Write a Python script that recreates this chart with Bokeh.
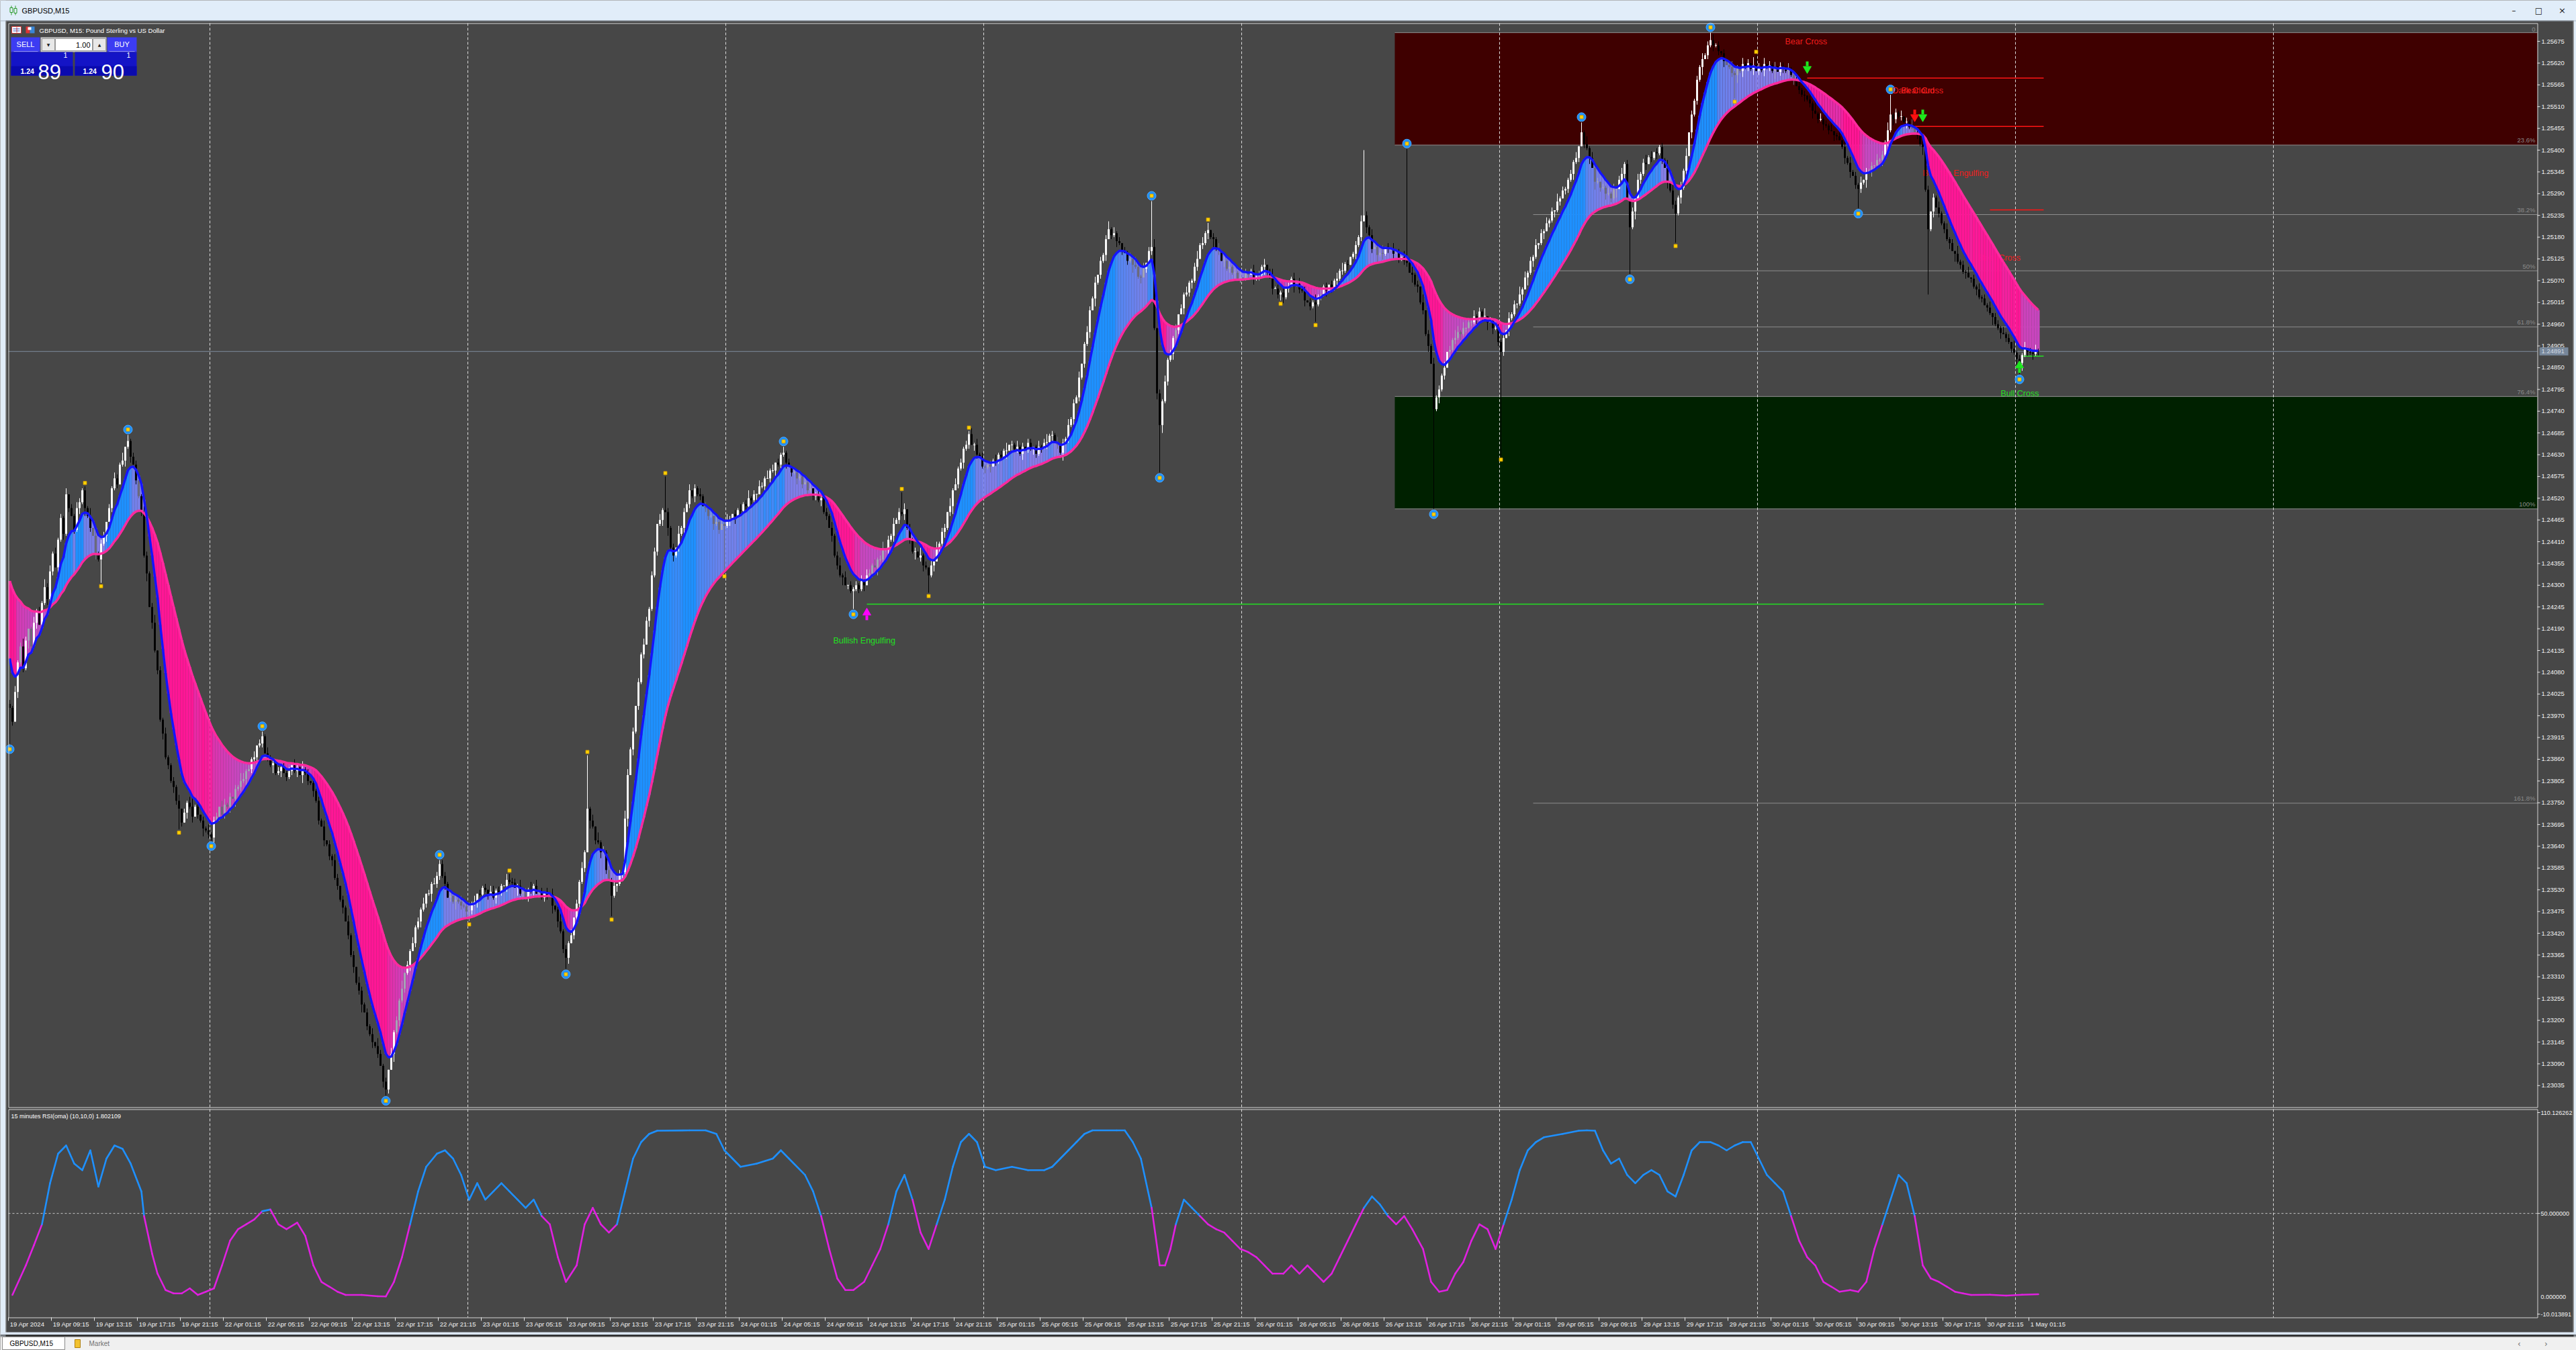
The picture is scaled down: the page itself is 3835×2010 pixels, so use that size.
import numpy as np
from bokeh.plotting import figure
from bokeh.models import Range1d
from bokeh.embed import file_html
from bokeh.resources import INLINE
from bokeh.core.properties import value

# ============================== DATA ==============================
WINDOW_TITLE = "GBPUSD,M15"
CHART_HEADER = "GBPUSD, M15:  Pound Sterling vs US Dollar"
RSI_HEADER = "15 minutes RSI(oma) (10,10,0) 1.802109"

PRICE_BASE = 1.23000          # price that equals 0 points
POINT = 0.00001
FIRST_OPEN = 1000             # points

# close of every M15 bar (points above 1.23000), 19 Apr 05:15 ... 1 May
CLOSES = [
    990, 955, 1030, 1105, 1145, 1090, 1160, 1190, 1145, 1205, 1235, 1200, 1255, 1295, 1265, 1335, 1380, 1345, 1415, 1470,
    1430, 1530, 1495, 1475, 1440, 1495, 1510, 1540, 1495, 1475, 1445, 1425, 1380, 1365, 1405, 1425, 1460, 1495, 1545, 1570,
    1555, 1605, 1615, 1650, 1665, 1625, 1605, 1565, 1525, 1485, 1375, 1330, 1245, 1205, 1135, 1085, 960, 925, 865, 845,
    805, 790, 755, 735, 700, 725, 750, 740, 715, 740, 720, 705, 685, 680, 670, 662, 705, 715, 740, 720,
    745, 740, 765, 760, 785, 790, 805, 810, 830, 835, 860, 865, 895, 900, 918, 875, 865, 845, 850, 825,
    830, 840, 825, 815, 830, 845, 830, 840, 820, 835, 825, 805, 800, 780, 755, 705, 690, 655, 645, 615,
    605, 560, 540, 505, 485, 450, 415, 365, 335, 295, 275, 240, 220, 185, 165, 145, 135, 115, 85, 45,
    25, 75, 115, 170, 200, 250, 280, 320, 340, 375, 395, 435, 450, 480, 495, 520, 520, 545, 545, 565,
    595, 565, 545, 510, 515, 500, 505, 500, 490, 488, 475, 478, 495, 500, 520, 518, 535, 530, 520, 525,
    510, 528, 525, 540, 540, 555, 550, 548, 535, 540, 520, 525, 510, 530, 525, 540, 520, 525, 510, 525,
    515, 518, 490, 480, 450, 425, 380, 358, 395, 415, 460, 495, 550, 585, 625, 735, 705, 690, 655, 650,
    625, 625, 580, 555, 515, 540, 545, 570, 575, 710, 820, 885, 930, 995, 1055, 1125, 1150, 1210, 1240, 1325,
    1385, 1455, 1465, 1490, 1485, 1445, 1395, 1375, 1395, 1430, 1445, 1485, 1505, 1540, 1525, 1545, 1530, 1525, 1500, 1495,
    1475, 1475, 1455, 1460, 1440, 1455, 1450, 1465, 1465, 1480, 1475, 1490, 1488, 1505, 1500, 1520, 1515, 1530, 1530, 1550,
    1550, 1570, 1570, 1590, 1590, 1610, 1605, 1630, 1635, 1610, 1600, 1585, 1585, 1570, 1575, 1555, 1560, 1540, 1545, 1525,
    1530, 1515, 1520, 1485, 1475, 1445, 1425, 1375, 1350, 1325, 1320, 1300, 1300, 1285, 1290, 1300, 1290, 1310, 1300, 1325,
    1330, 1350, 1345, 1365, 1365, 1390, 1390, 1415, 1425, 1455, 1465, 1485, 1480, 1492, 1445, 1415, 1385, 1385, 1370, 1375,
    1350, 1345, 1325, 1350, 1360, 1395, 1405, 1435, 1445, 1485, 1500, 1540, 1555, 1595, 1610, 1645, 1655, 1682, 1655, 1655,
    1630, 1625, 1600, 1598, 1605, 1600, 1615, 1612, 1630, 1625, 1640, 1640, 1655, 1655, 1645, 1650, 1632, 1650, 1645, 1660,
    1645, 1650, 1632, 1650, 1645, 1660, 1662, 1678, 1680, 1660, 1655, 1635, 1660, 1670, 1705, 1720, 1760, 1775, 1825, 1860,
    1910, 1940, 1995, 2025, 2065, 2085, 2120, 2135, 2175, 2200, 2185, 2190, 2170, 2165, 2145, 2140, 2120, 2125, 2110, 2105,
    2080, 2078, 2100, 2115, 2145, 2155, 1950, 1785, 1705, 1765, 1815, 1870, 1885, 1925, 1945, 1985, 2000, 2035, 2040, 2065,
    2070, 2105, 2125, 2160, 2165, 2190, 2198, 2180, 2175, 2150, 2145, 2120, 2120, 2100, 2105, 2090, 2090, 2075, 2078, 2075,
    2090, 2085, 2095, 2075, 2080, 2085, 2105, 2110, 2090, 2080, 2050, 2050, 2035, 2040, 2028, 2050, 2055, 2075, 2060, 2062,
    2048, 2045, 2020, 2015, 2005, 2015, 2010, 2030, 2035, 2055, 2045, 2060, 2050, 2070, 2075, 2095, 2095, 2112, 2110, 2130,
    2138, 2160, 2180, 2220, 2235, 2205, 2185, 2150, 2155, 2135, 2140, 2138, 2155, 2150, 2150, 2138, 2140, 2125, 2130, 2120,
    2115, 2090, 2085, 2060, 2055, 2015, 1995, 1935, 1905, 1860, 1745, 1775, 1795, 1830, 1850, 1890, 1895, 1920, 1925, 1940,
    1935, 1950, 1950, 1965, 1965, 1980, 1975, 1992, 1980, 1980, 1965, 1968, 1950, 1950, 1915, 1890, 1925, 1945, 1975, 1985,
    2010, 2012, 2035, 2048, 2078, 2090, 2120, 2130, 2160, 2165, 2190, 2195, 2215, 2222, 2245, 2248, 2270, 2278, 2298, 2302,
    2325, 2340, 2370, 2380, 2410, 2445, 2415, 2405, 2380, 2355, 2320, 2320, 2305, 2305, 2290, 2290, 2278, 2300, 2302, 2325,
    2340, 2365, 2275, 2205, 2245, 2278, 2325, 2340, 2368, 2365, 2382, 2380, 2395, 2392, 2408, 2375, 2355, 2318, 2298, 2262,
    2240, 2280, 2305, 2348, 2385, 2445, 2490, 2525, 2578, 2610, 2630, 2640, 2665, 2678, 2665, 2665, 2650, 2645, 2625, 2615,
    2610, 2595, 2590, 2605, 2600, 2618, 2610, 2620, 2605, 2615, 2600, 2610, 2602, 2618, 2610, 2615, 2600, 2608, 2598, 2612,
    2610, 2600, 2605, 2590, 2580, 2562, 2552, 2540, 2538, 2528, 2518, 2500, 2492, 2478, 2478, 2465, 2462, 2450, 2448, 2438,
    2435, 2425, 2408, 2380, 2368, 2345, 2335, 2312, 2302, 2318, 2325, 2345, 2348, 2360, 2362, 2375, 2375, 2388, 2420, 2450,
    2490, 2478, 2495, 2485, 2485, 2470, 2472, 2458, 2455, 2445, 2438, 2415, 2408, 2300, 2200, 2245, 2280, 2255, 2240, 2215,
    2200, 2175, 2165, 2145, 2138, 2118, 2110, 2092, 2090, 2078, 2075, 2055, 2048, 2028, 2025, 2008, 2002, 1988, 1978, 1960,
    1950, 1938, 1935, 1925, 1915, 1898, 1888, 1872, 1862, 1882, 1900, 1890, 1888, 1885, 1893, 1891,
]

# wick lengths per bar, one digit per bar, in units of WICK_UNIT points
WICK_UNIT = 5
UPPER_WICKS = (
    "21312420131214231312" "13021321214031220213" "21403122013212402131" "12130213412021312203"
    "31202143121302213120" "21312032141203121302" "13202131203212130421" "20312140213121302132"
    "12213021312413021203" "31210312213021413120" "21302412130213121304" "13121302143120213212"
    "20313212041213021312" "12031213202131241203" "21413021312021312130" "13202131241302121313"
    "21312402131213021204" "12031312204131212031" "31210213121402131202" "20131241213021312130"
    "13213021241312021314" "21302140213121302131" "12413120213021412130" "20131213024121302131"
    "31202141312021314120" "12130213212402131203" "21312040213121302143" "13021312140213212031"
    "20413121302131204121" "12130214131202131302" "31202131241302121403" "21314021213120312021"
    "13120312041213021312" "20312131202141312130" "12041312130212031214" "31213021412031202131"
    "13120412130213121302" "2131204121302131"
)
LOWER_WICKS = (
    "12031214213021312041" "31202131412031213021" "20131302121403121312" "13212031302141213021"
    "21304121302131202141" "13021213041213120312" "31213021312402131203" "12041312130213121402"
    "21302141213021312130" "13120312041312130212" "20413121302131204121" "31202131214031212031"
    "12130413121302131202" "21312021304121312140" "13021412130213120312" "21312031214021312130"
    "12041312130213121402" "31213021312402131203" "20131302121403121312" "13212031302141213021"
    "21304121302131202141" "13021213041213120312" "31202131412031213021" "12031214213021312041"
    "21302141213021312130" "13120312041312130212" "20413121302131204121" "31202131214031212031"
    "12130413121302131202" "21312021304121312140" "13021412130213120312" "21312031214021312130"
    "12041312130213121402" "31213021312402131203" "20131302121403121312" "13212031302141213021"
    "21304121302131202141" "1302121304121312"
)

# long spikes
HIGH_SPIKE_BARS = [28, 44, 94, 160, 186, 215, 244, 288, 332, 357, 425, 446, 504, 520, 585, 633, 650, 700]
HIGH_SPIKE_PTS = [1545, 1672, 930, 605, 570, 870, 1575, 1639, 1535, 1690, 2271, 2216, 2400, 2403, 2470, 2697, 2640, 2540]
LOW_SPIKE_BARS = [0, 34, 63, 75, 140, 171, 207, 224, 266, 314, 342, 428, 473, 486, 530, 555, 603, 620, 642, 688, 714, 748]
LOW_SPIKE_PTS = [899, 1306, 683, 654, 10, 451, 330, 463, 1331, 1240, 1281, 1585, 2020, 1966, 1493, 1626, 2087, 2166, 2531, 2253, 2035, 1834]

BID_PTS = 1891

# ribbon (two moving averages)
FAST_PERIOD, SLOW_PERIOD = 8, 34
FAST_SEED, SLOW_SEED = 1150, 1330

# swing markers
SWING_BARS = [0, 44, 75, 94, 140, 160, 207, 288, 314, 425, 428, 520, 530, 585, 603, 633, 688, 700, 748]
SWING_KIND = ["L", "H", "L", "H", "L", "H", "L", "H", "L", "H", "L", "H", "L", "H", "L", "H", "L", "H", "L"]
MINOR_BARS = [28, 34, 63, 171, 186, 215, 224, 244, 266, 332, 342, 357, 446, 473, 486, 555, 620, 642, 650]
MINOR_KIND = ["H", "L", "L", "L", "H", "H", "L", "H", "L", "H", "L", "H", "H", "L", "L", "L", "L", "L", "H"]

# Fibonacci retracement between bar 633 high and bar 530 low
FIB_HIGH_BAR, FIB_LOW_BAR = 633, 530
FIB_LEVELS = [0.0, 23.6, 38.2, 50.0, 61.8, 76.4, 100.0, 161.8]
FIB_LABELS = ["0", "23.6%", "38.2%", "50%", "61.8%", "76.4%", "100%", "161.8%"]
FIB_ZONE_START = 516
FIB_LINE_START = 567

# pattern signals
SIGNAL_LINE_START = [319, 669, 709, 737, 749]
SIGNAL_LINE_PTS = [1252, 2582, 2460, 2249, 1879]
SIGNAL_LINE_KIND = ["bull", "bear", "bear", "bear", "bull"]
SIGNAL_LINE_END = 757

ARROW_BARS = [319, 669, 709, 712, 748]
ARROW_PTS = [1227, 2609, 2487, 2487, 1852]
ARROW_DIR = ["up", "down", "down", "down", "up"]
ARROW_KIND = ["engulf", "cross", "pattern", "cross", "cross"]

SIGNAL_TEXT = ["Bullish Engulfing", "Bear Cross", "Dark Cloud", "Bear Cross",
               "Bearish Engulfing", "Bear Cross", "Bull Cross"]
SIGNAL_TEXT_BAR = [306.5, 660.75, 700.75, 704.0, 712.0, 732.75, 741.0]
SIGNAL_TEXT_PTS = [1159, 2675, 2551, 2551, 2341, 2128, 1784]
SIGNAL_TEXT_KIND = ["bull", "bear", "bear", "bear", "bear", "bear", "bull"]
SIGNAL_TEXT_BEHIND = [False, False, False, False, True, True, False]

# RSI(oma) samples: (bar, value)
RSI_SAMPLES = [
    (1, 1.4), (6, 19), (9, 31), (12, 43.5), (15, 68), (18, 85.6), (21, 90.5), (24, 79.7), (27, 75.8), (30, 87.6),
    (33, 66), (36, 82.7), (39, 90.5), (42, 88.5), (45, 79.7), (49, 63.1), (50, 48.4), (53, 25.9), (55, 14.1), (58, 4.3),
    (61, 2.3), (64, 2.3), (67, 5.3), (70, 1.4), (73, 3.3), (76, 5.3), (79, 19), (82, 33.7), (85, 40.6), (88, 43.5),
    (91, 46.4), (94, 51.3), (97, 52.3), (100, 43.5), (103, 40.6), (107, 44.5), (110, 36.6), (113, 19), (116, 9.2), (119, 6.3),
    (122, 3.3), (125, 1.4), (131, 1.4), (137, 0.6), (140, 0.5), (143, 9.2), (146, 23.9), (149, 43.5), (152, 63.1), (155, 77.8),
    (159, 85.6), (162, 87.6), (165, 82.7), (168, 72.9), (171, 58.2), (174, 68), (177, 58.2), (180, 63.1), (183, 68), (186, 63.1),
    (189, 58.2), (192, 53.3), (195, 58.2), (198, 48.4), (201, 43.5), (204, 23.9), (207, 9.2), (211, 19), (214, 43.5), (217, 53.3),
    (220, 43.5), (223, 38.6), (226, 43.5), (229, 63.1), (232, 82.7), (235, 92.5), (238, 97.4), (241, 99.3), (253, 99.5), (259, 99.5),
    (263, 97.4), (266, 87.6), (269, 82.7), (272, 77.8), (278, 79.7), (284, 82.7), (287, 87.6), (290, 82.7), (296, 72.9), (299, 63.1),
    (302, 48.4), (305, 28.8), (308, 11.2), (311, 4.3), (314, 4.3), (318, 9.2), (321, 19), (324, 28.8), (327, 43.5), (330, 63.1),
    (333, 72.9), (336, 58.2), (339, 38.6), (342, 28.8), (345, 43.5), (348, 58.2), (351, 77.8), (354, 92.5), (357, 97.4), (360, 92.5),
    (363, 77.8), (367, 75.8), (373, 77.8), (379, 75.8), (385, 75.8), (388, 77.8), (391, 82.7), (394, 87.6), (397, 92.5), (400, 97.4),
    (403, 99.5), (412, 99.5), (415, 99.5), (418, 92.5), (421, 82.7), (425, 53.3), (428, 19), (430, 19), (432, 28.8), (434, 43.5),
    (437, 58.2), (440, 53.3), (443, 48.4), (446, 43.5), (449, 40.6), (452, 38.6), (455, 33.7), (458, 28.8), (461, 26.9), (464, 23.9),
    (467, 19), (470, 14.1), (474, 14.1), (477, 19), (480, 14.1), (483, 19), (486, 14.1), (489, 9.2), (492, 14.1), (495, 23.9),
    (498, 33.7), (501, 43.5), (504, 53.3), (507, 60.1), (510, 55.3), (513, 48.4), (516, 43.5), (519, 48.4), (522, 40.6), (526, 28.8),
    (529, 9.2), (532, 3.3), (535, 4.3), (538, 14.1), (541, 21), (544, 33.7), (547, 43.5), (550, 40.6), (553, 28.8), (556, 43.5),
    (559, 58.2), (562, 75.8), (565, 87.6), (568, 92.5), (571, 95.4), (578, 97.4), (584, 99.3), (587, 99.5), (590, 99.3), (593, 87.6),
    (596, 79.7), (599, 82.7), (602, 72.9), (605, 68), (608, 72.9), (611, 75.8), (614, 72.9), (617, 63.1), (620, 60.1), (623, 72.9),
    (626, 87.6), (629, 92.5), (633, 92.5), (636, 90.5), (639, 87.6), (642, 90.5), (645, 92.5), (648, 92.5), (651, 82.7), (654, 72.9),
    (657, 68), (660, 63.1), (663, 48.4), (666, 33.7), (669, 23.9), (672, 19), (675, 9.2), (678, 6.3), (681, 3.3), (685, 4.3),
    (688, 3.3), (691, 9.2), (694, 28.8), (697, 43.5), (700, 58.2), (703, 72.9), (706, 68), (709, 48.4), (712, 19), (715, 11.2),
    (718, 9.2), (721, 6.3), (724, 3.3), (727, 2.3), (730, 1.4), (737, 1.5), (743, 1.0), (749, 1.5), (755, 1.8),
]

# axis labels
PRICE_TICKS = [round(1.23035 + 0.00055 * k, 5) for k in range(49)]
RSI_TICK_VALUES = [110.126262, 50.0, 0.0, -10.013891]
RSI_TICK_LABELS = ["110.126262", "50.000000", "0.000000", "-10.013891"]
RSI_LEVEL = 50.0
TIME_LABELS = [
    "19 Apr 2024", "19 Apr 09:15", "19 Apr 13:15", "19 Apr 17:15", "19 Apr 21:15",
    "22 Apr 01:15", "22 Apr 05:15", "22 Apr 09:15", "22 Apr 13:15", "22 Apr 17:15", "22 Apr 21:15",
    "23 Apr 01:15", "23 Apr 05:15", "23 Apr 09:15", "23 Apr 13:15", "23 Apr 17:15", "23 Apr 21:15",
    "24 Apr 01:15", "24 Apr 05:15", "24 Apr 09:15", "24 Apr 13:15", "24 Apr 17:15", "24 Apr 21:15",
    "25 Apr 01:15", "25 Apr 05:15", "25 Apr 09:15", "25 Apr 13:15", "25 Apr 17:15", "25 Apr 21:15",
    "26 Apr 01:15", "26 Apr 05:15", "26 Apr 09:15", "26 Apr 13:15", "26 Apr 17:15", "26 Apr 21:15",
    "29 Apr 01:15", "29 Apr 05:15", "29 Apr 09:15", "29 Apr 13:15", "29 Apr 17:15", "29 Apr 21:15",
    "30 Apr 01:15", "30 Apr 05:15", "30 Apr 09:15", "30 Apr 13:15", "30 Apr 17:15", "30 Apr 21:15",
    "1 May 01:15",
]
TIME_LABEL_STEP = 16          # bars between labels
DAY_SEPARATOR_BARS = [75 + 96 * k for k in range(9)]

# ============================== GEOMETRY (page pixels) ==============================
FONT = "Liberation Sans"
BG = "#474747"
FRAME_COL = "#d4d4d4"
CHROME = "#e1edf9"
PAGE_L, PAGE_T, PAGE_R, PAGE_B = 0, 0, 3835, 2010
MAIN_L, MAIN_R, MAIN_T, MAIN_B = 12, 3777, 34, 1648
RSI_T, RSI_B = 1651, 1961
BAR0_X, BAR_W = 14.0, 4.0
PRICE_Y_REF, PRICE_REF, PX_PER_PRICE = 34.0, 1.25721, 58891.0
RSI_Y_REF, RSI_REF, PX_PER_RSI = 1656.0, 110.126262, 300.0 / 120.140153


def bar_at(X):
    return (X - BAR0_X) / BAR_W


def price_at(Y):
    return PRICE_REF - (Y - PRICE_Y_REF) / PX_PER_PRICE


def rsi_at(Y):
    return RSI_REF - (Y - RSI_Y_REF) / PX_PER_RSI


def P(pts):
    return PRICE_BASE + np.asarray(pts, dtype=float) * POINT


def px_h(pixels):
    return pixels / PX_PER_PRICE


# ============================== DERIVED ==============================
N = len(CLOSES)
idx = np.arange(N, dtype=float)
c = np.array(CLOSES, dtype=float)
o = np.concatenate([[FIRST_OPEN], c[:-1]])
uw = np.array([int(ch) for ch in (UPPER_WICKS + "1" * N)[:N]], dtype=float) * WICK_UNIT
lw = np.array([int(ch) for ch in (LOWER_WICKS + "1" * N)[:N]], dtype=float) * WICK_UNIT
hi = np.maximum(o, c) + uw
lo = np.minimum(o, c) - lw
for b, v in zip(HIGH_SPIKE_BARS, HIGH_SPIKE_PTS):
    hi[b] = max(hi[b], v)
for b, v in zip(LOW_SPIKE_BARS, LOW_SPIKE_PTS):
    lo[b] = min(lo[b], v)

fast = np.empty(N)
slow = np.empty(N)
af, aslow = 2.0 / (FAST_PERIOD + 1), 2.0 / (SLOW_PERIOD + 1)
pf, ps = float(FAST_SEED), float(SLOW_SEED)
for i in range(N):
    pf += af * (c[i] - pf)
    ps += aslow * (c[i] - ps)
    fast[i], slow[i] = pf, ps

NEUT_BULL = (146, 122, 226)
NEUT_BEAR = (180, 86, 204)
BULL_FILL = (30, 144, 255)
BEAR_FILL = (255, 22, 150)
slope = np.diff(fast, prepend=FAST_SEED)
gap = fast - slow
ribbon_cols = []
for g, s in zip(gap, slope):
    if g >= 0:
        t = max(s / 12.0, g / 420.0)
        a_, b_ = NEUT_BULL, BULL_FILL
    else:
        t = max(-s / 12.0, -g / 420.0)
        a_, b_ = NEUT_BEAR, BEAR_FILL
    t = min(1.0, max(0.0, t))
    ribbon_cols.append("#%02x%02x%02x" % tuple(int(round(a_[k] + (b_[k] - a_[k]) * t)) for k in range(3)))

body_top = np.maximum(o, c)
body_bot = np.minimum(o, c)
thin = (body_top - body_bot) < 1.5
body_top = np.where(thin, body_top + 0.9, body_top)
body_bot = np.where(thin, body_bot - 0.9, body_bot)
band_lo = np.minimum(fast, slow)
band_hi = np.maximum(fast, slow)
inside = (np.minimum(o, c) >= band_lo) & (np.maximum(o, c) <= band_hi)
bull = c >= o
candle_cols = []
for up, ins in zip(bull, inside):
    if ins:
        candle_cols.append("#a4a6b6" if up else "#6a6a78")
    else:
        candle_cols.append("#ffffff" if up else "#000000")

fib_hi = hi[FIB_HIGH_BAR]
fib_lo = lo[FIB_LOW_BAR]
fib_pts = [fib_hi - lv / 100.0 * (fib_hi - fib_lo) for lv in FIB_LEVELS]

# ============================== FIGURE ==============================
p = figure(width=PAGE_R - PAGE_L, height=PAGE_B - PAGE_T,
           x_range=Range1d(bar_at(PAGE_L), bar_at(PAGE_R)),
           y_range=Range1d(price_at(PAGE_B), price_at(PAGE_T)),
           output_backend="svg", toolbar_location=None,
           x_axis_type=None, y_axis_type=None, min_border=0)
p.extra_x_ranges = {"px": Range1d(PAGE_L, PAGE_R)}
p.extra_y_ranges = {"py": Range1d(PAGE_B, PAGE_T), "rsi": Range1d(rsi_at(PAGE_B), rsi_at(PAGE_T))}
p.background_fill_color = BG
p.border_fill_color = BG
p.outline_line_color = None
p.grid.visible = False


def q(l, r, t, b, color, line=None, lw=1, alpha=1.0):
    p.quad(left=[l], right=[r], top=[t], bottom=[b], fill_color=color, fill_alpha=alpha,
           line_color=line, line_width=lw, x_range_name="px", y_range_name="py")


def txt(x, y, s, size, color, align="left", baseline="middle", style="normal", font=FONT):
    p.text(x=[x], y=[y], text=[s], x_range_name="px", y_range_name="py",
           text_font=value(font), text_font_size=value("%spx" % size), text_color=color,
           text_align=align, text_baseline=baseline, text_font_style=style)


def sg(x0, y0, x1, y1, color, lw=1, dash="solid"):
    p.segment(x0=[x0], y0=[y0], x1=[x1], y1=[y1], line_color=color, line_width=lw,
              line_dash=dash, x_range_name="px", y_range_name="py")


right_bar = bar_at(MAIN_R)

# --- Fibonacci zones & levels
p.quad(left=[FIB_ZONE_START - 0.5] * 2, right=[right_bar] * 2,
       top=list(P([fib_pts[0], fib_pts[5]])), bottom=list(P([fib_pts[1], fib_pts[6]])),
       fill_color=["#3f0000", "#002100"], line_color=None)
fx0 = [FIB_ZONE_START - 0.5 if lv in (0.0, 23.6, 76.4, 100.0) else FIB_LINE_START for lv in FIB_LEVELS]
p.segment(x0=fx0, y0=list(P(fib_pts)), x1=[right_bar] * len(FIB_LEVELS), y1=list(P(fib_pts)),
          line_color="#8e8e8e", line_width=1)
p.text(x=[bar_at(MAIN_R - 3)] * len(FIB_LEVELS), y=list(P(fib_pts) + px_h(1.5)), text=FIB_LABELS,
       text_font=value(FONT), text_font_size=value("9.5px"), text_color="#8a8a8a",
       text_align="right", text_baseline="bottom")

# --- day separators (dashed)
sep_x = [b - 0.5 for b in DAY_SEPARATOR_BARS]
p.segment(x0=sep_x, y0=[MAIN_T] * len(sep_x), x1=sep_x, y1=[MAIN_B] * len(sep_x),
          y_range_name="py", line_color="#dcdcdc", line_width=1, line_dash="4 3")
p.segment(x0=sep_x, y0=[RSI_T] * len(sep_x), x1=sep_x, y1=[RSI_B] * len(sep_x),
          y_range_name="py", line_color="#dcdcdc", line_width=1, line_dash="4 3")

# --- bid line
p.segment(x0=[bar_at(MAIN_L)], y0=list(P([BID_PTS])), x1=[right_bar], y1=list(P([BID_PTS])),
          line_color="#7d8c9c", line_width=1)

# --- signal level lines
sl_col = ["#22e022" if k == "bull" else "#ff1414" for k in SIGNAL_LINE_KIND]
p.segment(x0=SIGNAL_LINE_START, y0=list(P(SIGNAL_LINE_PTS)), x1=[SIGNAL_LINE_END] * len(SIGNAL_LINE_START),
          y1=list(P(SIGNAL_LINE_PTS)), line_color=sl_col, line_width=1.5)

# --- texts that sit behind the ribbon
TEXT_COL = {"bull": "#22e022", "bear": "#f01c1c"}
for s, b, v, k, behind in zip(SIGNAL_TEXT, SIGNAL_TEXT_BAR, SIGNAL_TEXT_PTS, SIGNAL_TEXT_KIND, SIGNAL_TEXT_BEHIND):
    if behind:
        p.text(x=[b], y=list(P([v])), text=[s], text_font=value(FONT), text_font_size=value("12.5px"),
               text_color=TEXT_COL[k], text_align="left", text_baseline="middle")

# --- ribbon fill
p.vbar(x=idx, width=1.04, top=P(band_hi), bottom=P(band_lo), fill_color=ribbon_cols,
       line_color=None)

# --- candles
p.segment(x0=idx, y0=P(hi), x1=idx, y1=P(lo), line_color=candle_cols, line_width=1)
p.vbar(x=idx, width=0.72, top=P(body_top), bottom=P(body_bot), fill_color=candle_cols, line_color=None)

# --- moving average lines
p.line(idx, P(slow), line_color="#ff2a9e", line_width=3.5)
p.line(idx, P(fast), line_color="#1414ff", line_width=3.5)

# --- arrows
ARROW_COL = {"engulf": "#ff00ff", "cross": "#1ee81e", "pattern": "#ff1010"}
for b, v, d, k in zip(ARROW_BARS, ARROW_PTS, ARROW_DIR, ARROW_KIND):
    col = ARROW_COL[k]
    if d == "up":
        p.vbar(x=[b], width=1.0, top=list(P([v]) - px_h(2)), bottom=list(P([v]) - px_h(9)),
               fill_color=col, line_color=None)
        p.scatter(x=[b], y=list(P([v]) + px_h(2)), marker="triangle", size=12, fill_color=col, line_color=col)
    else:
        p.vbar(x=[b], width=1.0, top=list(P([v]) + px_h(9)), bottom=list(P([v]) + px_h(2)),
               fill_color=col, line_color=None)
        p.scatter(x=[b], y=list(P([v]) - px_h(2)), marker="inverted_triangle", size=12, fill_color=col, line_color=col)

# --- swing markers
off = px_h(8)
sw_y = [P(hi[b]) + off if k == "H" else P(lo[b]) - off for b, k in zip(SWING_BARS, SWING_KIND)]
mn_y = [P(hi[b]) + px_h(5) if k == "H" else P(lo[b]) - px_h(5) for b, k in zip(MINOR_BARS, MINOR_KIND)]
p.scatter(x=SWING_BARS, y=sw_y, marker="circle", size=13, fill_color="#1e90ff", line_color="#4aa8ff", line_width=1)
p.scatter(x=SWING_BARS + MINOR_BARS, y=sw_y + mn_y, marker="square", size=5, fill_color="#ffd200",
          line_color="#d09a00", line_width=0.8)

# --- texts in front
for s, b, v, k, behind in zip(SIGNAL_TEXT, SIGNAL_TEXT_BAR, SIGNAL_TEXT_PTS, SIGNAL_TEXT_KIND, SIGNAL_TEXT_BEHIND):
    if not behind:
        p.text(x=[b], y=list(P([v])), text=[s], text_font=value(FONT), text_font_size=value("12.5px"),
               text_color=TEXT_COL[k], text_align="left", text_baseline="middle")

# ============================== RSI PANE ==============================
rb = [b for b, _ in RSI_SAMPLES]
rv = [v for _, v in RSI_SAMPLES]
p.segment(x0=[bar_at(MAIN_L)], y0=[RSI_LEVEL], x1=[right_bar], y1=[RSI_LEVEL], y_range_name="rsi",
          line_color="#c4c4c4", line_width=1, line_dash="3 3")
rcols = ["#1e90ff" if (a + b) / 2.0 >= RSI_LEVEL else "#e020e0" for a, b in zip(rv[:-1], rv[1:])]
p.segment(x0=rb[:-1], y0=rv[:-1], x1=rb[1:], y1=rv[1:], y_range_name="rsi",
          line_color=rcols, line_width=2.6, line_cap="round")
txt(16, 1661, RSI_HEADER, 9, "#ffffff")

# ============================== FRAMES & AXES ==============================
q(MAIN_R + 0.5, 3831, 31, 1984, BG)
for (t_, b_) in ((MAIN_T, MAIN_B), (RSI_T, RSI_B)):
    q(MAIN_L + 0.5, MAIN_R + 0.5, t_ + 0.5, b_ + 0.5, None, line=FRAME_COL, lw=1, alpha=0.0)

# price axis
p.segment(x0=[MAIN_R] * len(PRICE_TICKS), y0=PRICE_TICKS, x1=[MAIN_R + 4] * len(PRICE_TICKS), y1=PRICE_TICKS,
          x_range_name="px", line_color="#e8e8e8", line_width=1)
p.text(x=[MAIN_R + 6] * len(PRICE_TICKS), y=PRICE_TICKS, text=["%.5f" % v for v in PRICE_TICKS],
       x_range_name="px", text_font=value(FONT), text_font_size=value("9.5px"), text_color="#f2f2f2",
       text_align="left", text_baseline="middle")
bid_price = float(P([BID_PTS])[0])
p.quad(left=[MAIN_R + 3], right=[MAIN_R + 46], top=[bid_price + px_h(6)], bottom=[bid_price - px_h(6)],
       x_range_name="px", fill_color="#77879a", line_color=None)
p.text(x=[MAIN_R + 6], y=[bid_price], text=["%.5f" % bid_price], x_range_name="px",
       text_font=value(FONT), text_font_size=value("9.5px"), text_color="#d6dde6",
       text_align="left", text_baseline="middle")

# RSI axis
rt = [RSI_TICK_VALUES[0], RSI_TICK_VALUES[1], RSI_TICK_VALUES[3]]
p.segment(x0=[MAIN_R] * 3, y0=rt, x1=[MAIN_R + 4] * 3, y1=rt, x_range_name="px", y_range_name="rsi",
          line_color="#e8e8e8", line_width=1)
p.text(x=[MAIN_R + 5] * 4, y=RSI_TICK_VALUES, text=RSI_TICK_LABELS, x_range_name="px", y_range_name="rsi",
       text_font=value(FONT), text_font_size=value("9px"), text_color="#f2f2f2",
       text_align="left", text_baseline="middle")

# time axis
tb = [TIME_LABEL_STEP * k - 0.5 for k in range(len(TIME_LABELS))]
p.segment(x0=tb, y0=[RSI_B] * len(tb), x1=tb, y1=[RSI_B + 5] * len(tb), y_range_name="py",
          line_color="#e8e8e8", line_width=1)
p.text(x=[b + 0.55 for b in tb], y=[1970.5] * len(tb), text=TIME_LABELS, y_range_name="py",
       text_font=value(FONT), text_font_size=value("9.5px"), text_color="#f2f2f2",
       text_align="left", text_baseline="middle")

# ============================== WINDOW CHROME ==============================
q(PAGE_L, PAGE_R, PAGE_T, 30, CHROME)
q(PAGE_L, 8, PAGE_T, 1990, CHROME)
q(3831, PAGE_R, PAGE_T, 1990, CHROME)
sg(PAGE_L, 30.5, PAGE_R, 30.5, "#a8b4c2")
sg(8.5, 31, 8.5, 1984, "#9a9a9a")
sg(3830.5, 31, 3830.5, 1984, "#9a9a9a")
# title icon
sg(16.5, 8, 16.5, 22, "#2a9a2a", 1)
q(14.5, 18.5, 11, 18, CHROME, line="#2a9a2a")
sg(22.5, 8, 22.5, 22, "#2a9a2a", 1)
q(20.5, 24.5, 12, 19, CHROME, line="#2a9a2a")
txt(32, 15.5, WINDOW_TITLE, 11, "#000000")
txt(3742, 15, "\u2013", 12, "#202020", align="center", font="DejaVu Sans")
txt(3779, 15, "\u25a1", 12, "#202020", align="center", font="DejaVu Sans")
txt(3814, 15, "\u00d7", 13, "#202020", align="center", font="DejaVu Sans")

# chart header icons + text
q(17, 31, 39, 49, "#ffffff", line="#d03a3a")
sg(19, 42.5, 29, 42.5, "#3050c0")
sg(19, 45.5, 29, 45.5, "#3050c0")
sg(24.5, 40, 24.5, 48, "#d03a3a")
q(38, 44, 39, 49, "#e03434")
q(44, 51, 39, 49, "#3a86d6")
q(41, 46, 40, 44, "#ffffff")
txt(58, 44.5, CHART_HEADER, 9.5, "#ffffff")

# one-click trading panel
q(16, 59, 55, 77, "#3c3cf2")
q(159, 203, 55, 77, "#3c3cf2")
q(60, 158, 55, 77, "#cfcfcf")
q(62, 81, 57, 75, "#e8e8e8", line="#9a9a9a")
q(82, 137, 57, 75, "#ffffff", line="#9a9a9a")
q(138, 157, 57, 75, "#e8e8e8", line="#9a9a9a")
txt(71.5, 66, "\u25bc", 6, "#202020", align="center", font="DejaVu Sans")
txt(147.5, 66, "\u25b2", 6, "#202020", align="center", font="DejaVu Sans")
txt(134, 66.5, "1.00", 11, "#000000", align="right")
txt(37.5, 65.5, "SELL", 11, "#ffffff", align="center")
txt(181, 65.5, "BUY", 11, "#ffffff", align="center")
sg(20, 76, 56, 76, "#8c8cff")
sg(162, 76, 200, 76, "#8c8cff")
q(16, 108, 77, 112, "#1414c6")
q(111, 203, 77, 112, "#1414c6")
q(16, 108, 98, 112, "#0a0aae")
q(111, 203, 98, 112, "#0a0aae")
txt(30, 105.5, "1.24", 10.5, "#ffffff", baseline="alphabetic", style="bold")
txt(56, 106, "89", 31, "#ffffff", baseline="alphabetic")
txt(94, 77.5, "1", 10.5, "#ffffff", baseline="top")
txt(123, 105.5, "1.24", 10.5, "#ffffff", baseline="alphabetic", style="bold")
txt(150, 106, "90", 31, "#ffffff", baseline="alphabetic")
txt(188, 77.5, "1", 10.5, "#ffffff", baseline="top")

# bottom strip and tabs
q(PAGE_L, PAGE_R, 1983, 1987, "#dce7f3")
sg(PAGE_L, 1987.5, PAGE_R, 1987.5, "#000000")
sg(PAGE_L, 1989.5, PAGE_R, 1989.5, "#505050")
q(PAGE_L, PAGE_R, 1990, PAGE_B, "#f0f0f0")
q(3, 96, 1990, 2009, "#ffffff", line="#8a8a8a")
txt(14, 2000, WINDOW_TITLE, 10, "#000000")
q(111, 119, 1994, 2006, "#f2c230", line="#b08010")
txt(132, 2000, "Market", 10, "#707070")
txt(3750, 2000, "\u2039", 12, "#707070", align="center", font="DejaVu Sans")
txt(3790, 2000, "\u203a", 12, "#707070", align="center", font="DejaVu Sans")

open("out.html", "w").write(file_html(p, INLINE))
